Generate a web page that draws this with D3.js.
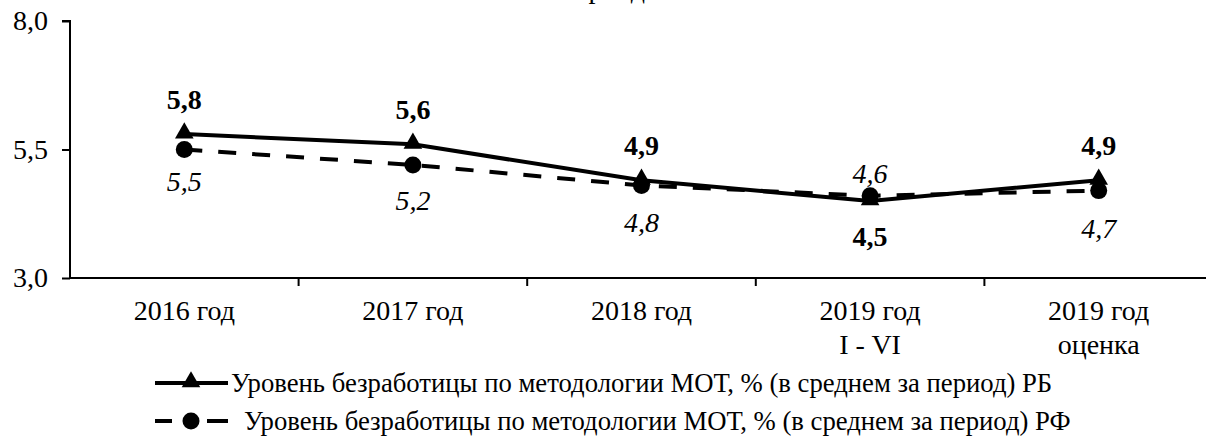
<!DOCTYPE html>
<html><head><meta charset="utf-8">
<script src="https://cdn.jsdelivr.net/npm/d3@7"></script>
<style>
body{margin:0;background:#fff;}
svg text, svg tspan{font-family:"Liberation Serif","Times New Roman",Tinos,serif !important;}
</style></head><body>
<svg id="c" width="1206" height="436"></svg>
<script>
const categories = [["2016 год"],["2017 год"],["2018 год"],["2019 год","I - VI"],["2019 год","оценка"]];
const seriesRB = [5.8, 5.6, 4.9, 4.5, 4.9];
const seriesRF = [5.5, 5.2, 4.8, 4.6, 4.7];
const labelsRB = ["5,8","5,6","4,9","4,5","4,9"];
const labelsRF = ["5,5","5,2","4,8","4,6","4,7"];
const yTicks = [3.0, 5.5, 8.0];
const legendRB = "Уровень безработицы по методологии МОТ, % (в среднем за период) РБ";
const legendRF = "Уровень безработицы по методологии МОТ, % (в среднем за период) РФ";
const titleTail = "за период";

const FONT = "Liberation Serif";
const FS = 28;
const LFS = 26.7;
const svg = d3.select("#c");
const root = svg.append("g").attr("font-family", FONT);
const ids = categories.map((c,i)=>i);
const x = d3.scaleBand().domain(ids).range([70, 1213]).padding(0);
const y = d3.scaleLinear().domain([3, 8]).range([278, 21]);
const cx = i => x(i) + x.bandwidth()/2;
const txt = sel => sel.attr("font-family",FONT).style("font-family","'Liberation Serif', serif").attr("fill","#000");

// cut-off title (only descenders visible)
root.append("text").attr("x", 645).attr("y", -2).attr("text-anchor","end")
  .attr("font-size", FS).text(titleTail).call(txt);

// Y axis
const yAxis = d3.axisLeft(y).tickValues(yTicks).tickSize(8).tickPadding(14)
  .tickFormat(d => d3.format(".1f")(d).replace(".", ","));
const gy = root.append("g").attr("transform","translate(70,0)").call(yAxis)
  .attr("font-family", FONT);
gy.select(".domain").attr("stroke","#000").attr("stroke-width",2).attr("d","M-8,21H0V278");
gy.selectAll(".tick line").attr("stroke","#000").attr("stroke-width",2);
gy.selectAll(".tick text").attr("font-size", FS).call(txt);

// X axis
const gx = root.append("g").attr("transform","translate(0,278)");
gx.append("line").attr("x1",70).attr("x2",1213).attr("y1",0).attr("y2",0).attr("stroke","#000").attr("stroke-width",2);
gx.selectAll("line.t").data(ids.slice(1)).enter().append("line").attr("class","t")
  .attr("x1", d=>x(d)).attr("x2", d=>x(d)).attr("y1",0).attr("y2",8).attr("stroke","#000").attr("stroke-width",2);
const xl = gx.selectAll("text.xl").data(ids).enter().append("text").attr("class","xl")
  .attr("text-anchor","middle").attr("font-size",FS).call(txt);
xl.each(function(d){
  const t = d3.select(this);
  categories[d].forEach((s,k)=>{
    t.append("tspan").attr("x", cx(d)).attr("y", 42 + k*34).text(s);
  });
});

// lines
const line = d3.line().x((d,i)=>cx(i)).y(d=>y(d));
root.append("path").datum(seriesRF).attr("d",line).attr("fill","none")
  .attr("stroke","#000").attr("stroke-width",4).attr("stroke-dasharray","18,16");
root.append("path").datum(seriesRB).attr("d",line).attr("fill","none")
  .attr("stroke","#000").attr("stroke-width",4);

// markers
root.selectAll("circle.rf").data(seriesRF).enter().append("circle").attr("class","rf")
  .attr("cx",(d,i)=>cx(i)).attr("cy",d=>y(d)).attr("r",8.5).attr("fill","#000");
const tri = d3.symbol().type(d3.symbolTriangle).size(150);
root.selectAll("path.rb").data(seriesRB).enter().append("path").attr("class","rb")
  .attr("d", tri).attr("transform",(d,i)=>`translate(${cx(i)},${y(d)-1})`).attr("fill","#000");

// data labels
const rbOff = [-25, -25, -25, 45, -25];
const rfOff = [41, 45, 47, -13, 47];
root.selectAll("text.lrb").data(seriesRB).enter().append("text").attr("class","lrb")
  .attr("x",(d,i)=>cx(i)).attr("y",(d,i)=>y(d)+rbOff[i]).attr("text-anchor","middle")
  .attr("font-size",FS).attr("font-weight","bold").text((d,i)=>labelsRB[i]).call(txt);
root.selectAll("text.lrf").data(seriesRF).enter().append("text").attr("class","lrf")
  .attr("x",(d,i)=>cx(i)).attr("y",(d,i)=>y(d)+rfOff[i]).attr("text-anchor","middle")
  .attr("font-size",FS).attr("font-style","italic").text((d,i)=>labelsRF[i]).call(txt);

// legend
const lg = root.append("g");
lg.append("line").attr("x1",155).attr("x2",228).attr("y1",383).attr("y2",383).attr("stroke","#000").attr("stroke-width",4);
lg.append("path").attr("d",tri).attr("transform","translate(191,382)").attr("fill","#000");
lg.append("text").attr("x",231).attr("y",392).attr("font-size",LFS).text(legendRB).call(txt);
lg.append("line").attr("x1",155).attr("x2",172).attr("y1",421).attr("y2",421).attr("stroke","#000").attr("stroke-width",4);
lg.append("line").attr("x1",207).attr("x2",228).attr("y1",421).attr("y2",421).attr("stroke","#000").attr("stroke-width",4);
lg.append("circle").attr("cx",191).attr("cy",421).attr("r",8.5).attr("fill","#000");
lg.append("text").attr("x",244).attr("y",430).attr("font-size",LFS).text(legendRF).call(txt);
</script>
</body></html>
